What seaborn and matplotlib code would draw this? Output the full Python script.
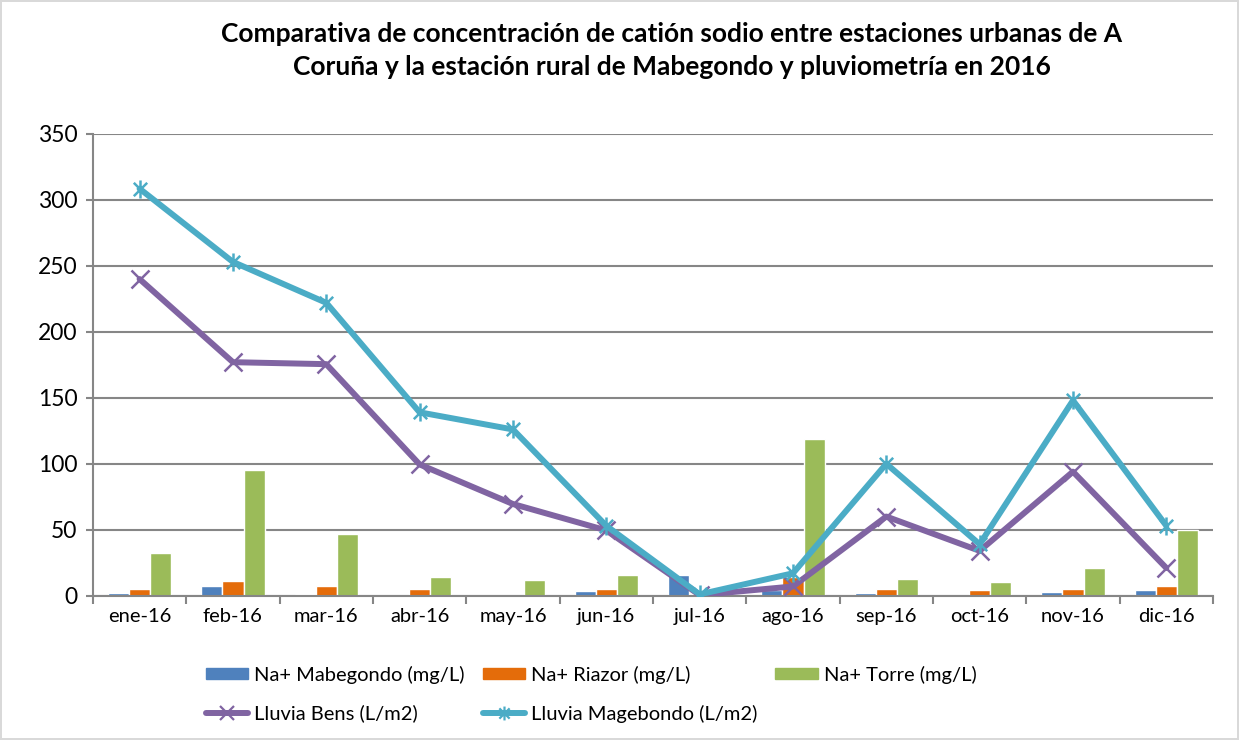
import numpy as np
import pandas as pd
import seaborn as sns
import matplotlib.pyplot as plt
from matplotlib.path import Path
from matplotlib.lines import Line2D
from matplotlib.patches import Patch

months = ["ene-16", "feb-16", "mar-16", "abr-16", "may-16", "jun-16",
          "jul-16", "ago-16", "sep-16", "oct-16", "nov-16", "dic-16"]
na_mabegondo = [1.8, 7.5, 1.0, 0.5, 0.3, 3.2, 16.0, 4.0, 1.8, 0.3, 3.0, 4.0]
na_riazor = [5.3, 10.8, 7.3, 5.3, 0.3, 4.8, 0.3, 14.0, 5.0, 4.3, 5.0, 7.3]
na_torre = [32.0, 95.0, 47.0, 14.0, 12.0, 16.0, 0.3, 119.0, 13.0, 10.4, 21.0, 50.0]
lluvia_bens = [240, 177, 175.5, 99.5, 69.5, 49.5, 0.5, 7, 60, 34, 94, 21]
lluvia_mage = [308.5, 253, 222, 139, 126, 53, 1, 17, 100, 39, 148, 53]

bar_names = ["Na+ Mabegondo (mg/L)", "Na+ Riazor (mg/L)", "Na+ Torre (mg/L)"]
bar_colors = ["#4F81BD", "#E46C0A", "#9BBB59"]
c_bens = "#8064A2"
c_mage = "#4BACC6"

sns.set_theme(style="white")
plt.rcParams['font.family'] = ['Lato', 'DejaVu Sans']
plt.rcParams['text.color'] = 'black'
plt.rcParams['xtick.color'] = 'black'
plt.rcParams['ytick.color'] = 'black'

df = pd.DataFrame({
    "mes": months * 3,
    "valor": na_mabegondo + na_riazor + na_torre,
    "serie": [bar_names[0]] * 12 + [bar_names[1]] * 12 + [bar_names[2]] * 12,
})

fig = plt.figure(figsize=(12.39, 7.40), dpi=100)
ax = fig.add_axes([0.075, 0.195, 0.904, 0.624])

sns.barplot(data=df, x="mes", y="valor", hue="serie", palette=bar_colors,
            width=0.68, gap=0, legend=False, ax=ax, saturation=1)

# asterisk marker: x with a vertical stroke
star = Path([(-1, -1), (1, 1), (-1, 1), (1, -1), (0, -1.35), (0, 1.35)],
            [Path.MOVETO, Path.LINETO, Path.MOVETO, Path.LINETO, Path.MOVETO, Path.LINETO])

x = np.arange(len(months))
ax.plot(x, lluvia_bens, color=c_bens, lw=4.3, marker="x", ms=13, mew=1.8, zorder=4)
ax.plot(x, lluvia_mage, color=c_mage, lw=4.3, marker=star, ms=13, mew=1.8,
        mfc="none", zorder=5)

ax.set_ylim(0, 350)
ax.set_yticks(range(0, 351, 50))
ax.set_xlim(-0.5, 11.5)
ax.set_xticks(x)
ax.set_xticklabels(months)
ax.set_xticks(np.arange(-0.5, 12, 1), minor=True)
ax.set_xlabel("")
ax.set_ylabel("")
ax.yaxis.grid(True, color="#868686", lw=1.5)
ax.set_axisbelow(True)
for s in ["top", "right"]:
    ax.spines[s].set_visible(False)
for s in ["left", "bottom"]:
    ax.spines[s].set_color("#868686")
    ax.spines[s].set_linewidth(1.5)
ax.tick_params(axis="y", labelsize=16.5, length=5, width=1.5, color="#868686",
               left=True, pad=6)
ax.tick_params(axis="x", which="major", labelsize=14.5, length=0, pad=9)
ax.tick_params(axis="x", which="minor", length=6, width=1.5, color="#868686",
               bottom=True)

fig.text(0.542, 0.932, "Comparativa de concentración de catión sodio entre estaciones urbanas de A\n"
         "Coruña y la estación rural de Mabegondo y pluviometría en 2016",
         ha="center", va="center", fontsize=19, fontweight="bold", linespacing=1.45)

handles = [
    Patch(color=bar_colors[0], label=bar_names[0]),
    Line2D([], [], color=c_bens, lw=4.3, marker="x", ms=10, mew=1.6, label="Lluvia Bens (L/m2)"),
    Patch(color=bar_colors[1], label=bar_names[1]),
    Line2D([], [], color=c_mage, lw=4.3, marker=star, ms=10, mew=1.6, mfc="none",
           label="Lluvia Magebondo (L/m2)"),
    Patch(color=bar_colors[2], label=bar_names[2]),
]
fig.legend(handles=handles, ncol=3, loc="center", bbox_to_anchor=(0.477, 0.062),
           frameon=False, fontsize=14.5, handlelength=2.1, handleheight=0.5,
           columnspacing=0.9, labelspacing=1.05, handletextpad=0.3)

fig.patch.set_edgecolor("#D9D9D9")
fig.patch.set_linewidth(1.5)
fig.savefig("out.png", dpi=100, edgecolor=fig.get_edgecolor())
